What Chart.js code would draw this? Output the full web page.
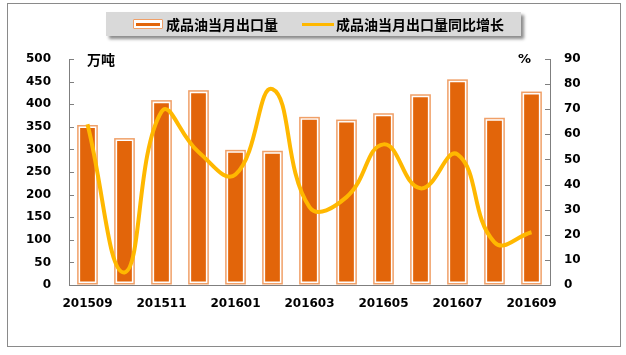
<!DOCTYPE html>
<html>
<head>
<meta charset="utf-8">
<script src="https://cdn.jsdelivr.net/npm/chart.js@4/dist/chart.umd.min.js"></script>
<style>
  body { margin: 0; background: #fff; }
  #wrap { position: relative; width: 626px; height: 355px; overflow: hidden; }
  #frame { position: absolute; left: 7px; top: 3px; width: 612px; height: 342px; border: 1.5px solid #8a8a8a; }
  canvas { position: absolute; left: 0; top: 0; }
  .lbl { position: absolute; font-family: "Noto Sans CJK SC", sans-serif; font-weight: bold; font-size: 14px; color: #000; line-height: 16px; white-space: nowrap; }
  #legend { position: absolute; left: 106px; top: 12px; width: 415px; height: 24px; background: #d9d9d9; box-shadow: 3px 3px 3px #8c8c8c; }
  #barIcon { position: absolute; left: 27px; top: 7px; width: 28px; height: 8px; border: 1.5px solid #f0a068; background: #fff; border-radius: 1px; }
  #barIcon div { position: absolute; left: 2px; top: 2.5px; width: 24px; height: 3px; background: #e2650a; }
  #lineIcon { position: absolute; left: 196px; top: 11px; width: 32px; height: 3px; background: #ffb800; }
</style>
</head>
<body>
<div id="wrap">
  <div id="frame"></div>
  <canvas id="mycanvas" width="626" height="355"></canvas>
  <div id="legend">
    <div id="barIcon"><div></div></div>
    <span class="lbl" style="left:60px; top:4px;">成品油当月出口量</span>
    <div id="lineIcon"></div>
    <span class="lbl" style="left:230px; top:4px;">成品油当月出口量同比增长</span>
  </div>
  <span class="lbl" style="left:87px; top:51px;">万吨</span>
  <span class="lbl" style="left:518px; top:51px; font-family:'DejaVu Sans'; font-size:13px;">%</span>
</div>
<script>
var months = ['201509', '201510', '201511', '201512', '201601', '201602', '201603',
              '201604', '201605', '201606', '201607', '201608', '201609'];
var exportVol = [354, 325, 409, 431, 299, 297, 372, 366, 380, 422, 455, 370, 428];
var yoyGrowth = [64, 5, 69, 53, 44, 78, 31, 35, 56, 38.5, 52, 17, 21];

var tickFont = { family: 'DejaVu Sans', size: 12, weight: 'bold' };

// thin outer outline round each bar (the white inner edge is the bar border)
var barOutline = {
    id: 'barOutline',
    afterDatasetDraw: function (chart, args) {
        if (args.index !== 1) return;
        var ctx = chart.ctx;
        ctx.save();
        ctx.strokeStyle = '#f0a068';
        ctx.lineWidth = 1.5;
        args.meta.data.forEach(function (bar) {
            var left = bar.x - bar.width / 2;
            ctx.strokeRect(left + 0.75, bar.y + 0.75, bar.width - 1.5, bar.base - bar.y - 1.5);
        });
        ctx.restore();
    }
};

// short tick marks pointing into the plot
var innerTicks = {
    id: 'innerTicks',
    afterDraw: function (chart) {
        var ctx = chart.ctx, area = chart.chartArea;
        ctx.save();
        ctx.strokeStyle = '#7f7f7f';
        ctx.lineWidth = 1;
        var y = chart.scales.y, y1 = chart.scales.y1;
        y.ticks.forEach(function (t, i) {
            var p = Math.round(y.getPixelForTick(i)) + 0.5;
            ctx.beginPath(); ctx.moveTo(area.left, p); ctx.lineTo(area.left + 5, p); ctx.stroke();
        });
        y1.ticks.forEach(function (t, i) {
            var p = Math.round(y1.getPixelForTick(i)) + 0.5;
            ctx.beginPath(); ctx.moveTo(area.right - 5, p); ctx.lineTo(area.right, p); ctx.stroke();
        });
        ctx.restore();
    }
};

var ctx = document.getElementById('mycanvas');
var myChart = new Chart(ctx, {
    type: 'bar',
    data: {
        labels: months,
        datasets: [
            {
                type: 'line',
                label: '成品油当月出口量同比增长',
                data: yoyGrowth,
                yAxisID: 'y1',
                borderColor: '#ffb800',
                borderWidth: 4,
                pointRadius: 0,
                tension: 0.45,
                fill: false,
                order: 1
            },
            {
                type: 'bar',
                label: '成品油当月出口量',
                data: exportVol,
                yAxisID: 'y',
                backgroundColor: '#e2650a',
                borderColor: '#ffffff',
                borderWidth: 3,
                borderSkipped: false,
                barPercentage: 0.56,
                categoryPercentage: 1,
                order: 2
            }
        ]
    },
    options: {
        responsive: false,
        animation: false,
        layout: { padding: { top: 59, left: 0, right: 0, bottom: 0 } },
        plugins: {
            legend: { display: false },
            tooltip: { enabled: false }
        },
        scales: {
            x: {
                grid: { drawOnChartArea: false, drawTicks: false },
                border: { display: true, color: '#7f7f7f', width: 1 },
                ticks: {
                    autoSkip: false, maxRotation: 0, padding: 12,
                    color: '#000', font: tickFont,
                    callback: function (v, i) { return i % 2 === 0 ? months[i] : ''; }
                },
                afterFit: function (s) { s.height = 70; }
            },
            y: {
                position: 'left',
                min: 0, max: 500,
                grid: { drawOnChartArea: false, drawTicks: false },
                border: { display: true, color: '#7f7f7f', width: 1 },
                ticks: { stepSize: 50, padding: 18, color: '#000', font: tickFont },
                afterFit: function (s) { s.width = 69; }
            },
            y1: {
                position: 'right',
                min: 0, max: 90,
                grid: { drawOnChartArea: false, drawTicks: false },
                border: { display: true, color: '#7f7f7f', width: 1 },
                ticks: { stepSize: 10, padding: 14, color: '#000', font: tickFont },
                afterFit: function (s) { s.width = 76; }
            }
        }
    },
    plugins: [barOutline, innerTicks]
});
</script>
</body>
</html>
